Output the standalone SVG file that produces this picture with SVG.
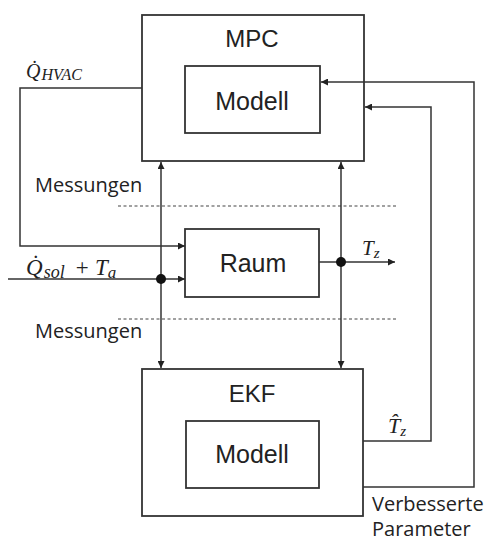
<svg xmlns="http://www.w3.org/2000/svg" width="487" height="542" viewBox="0 0 487 542">
<style>
.box{fill:#fff;stroke:#333;stroke-width:1.8}
.ln{fill:none;stroke:#333;stroke-width:1.5}
.dash{fill:none;stroke:#444;stroke-width:1.2;stroke-dasharray:3 2.5}
.t{font-family:"Liberation Sans",Arial,sans-serif;fill:#222;text-anchor:middle}
.c{font-family:"Open Sans","Liberation Sans",sans-serif;font-size:20px;fill:#222}
.m{font-family:"Liberation Serif","Times New Roman",serif;font-style:italic;fill:#222}
</style>
<defs>
<marker id="ah" viewBox="0 0 10 10" refX="10" refY="5" markerWidth="8" markerHeight="7" orient="auto-start-reverse" markerUnits="userSpaceOnUse">
<path d="M0,0 L10,5 L0,10 z" fill="#222"/>
</marker>
</defs>
<rect width="487" height="542" fill="#fff"/>
<g id="mpc">
<rect class="box" x="142" y="15" width="222" height="146"/>
<text class="t" x="252" y="47" font-size="24">MPC</text>
</g>
<g id="mpc-modell">
<rect class="box" x="185" y="66" width="135" height="67"/>
<text class="t" x="252" y="110" font-size="25">Modell</text>
</g>
<g id="raum">
<rect class="box" x="185" y="229" width="134" height="68"/>
<text class="t" x="253" y="272" font-size="25">Raum</text>
</g>
<g id="ekf">
<rect class="box" x="142" y="369" width="221" height="147"/>
<text class="t" x="252" y="402" font-size="24">EKF</text>
</g>
<g id="ekf-modell">
<rect class="box" x="186" y="421" width="133" height="67"/>
<text class="t" x="252" y="463" font-size="25">Modell</text>
</g>
<g id="connectors">
<line class="dash" x1="118" y1="206" x2="397" y2="206"/>
<line class="dash" x1="118" y1="319" x2="397" y2="319"/>
<polyline class="ln" points="142,88 20,88 20,246 185,246" marker-end="url(#ah)"/>
<line class="ln" x1="8" y1="279" x2="185" y2="279" marker-end="url(#ah)"/>
<line class="ln" x1="161" y1="162" x2="161" y2="368" marker-start="url(#ah)" marker-end="url(#ah)"/>
<line class="ln" x1="341" y1="162" x2="341" y2="368" marker-start="url(#ah)" marker-end="url(#ah)"/>
<line class="ln" x1="319" y1="262" x2="395" y2="262" marker-end="url(#ah)"/>
<circle cx="161" cy="279" r="5" fill="#111"/>
<circle cx="341" cy="262" r="5" fill="#111"/>
<polyline class="ln" points="363,441 431,441 431,107 365,107" marker-end="url(#ah)"/>
<polyline class="ln" points="363,487 474,487 474,82 321,82" marker-end="url(#ah)"/>
</g>
<g id="labels">
<text class="m" x="26" y="78" font-size="20">Q̇<tspan dx="1" dy="2" font-size="16">HVAC</tspan></text>
<text class="m" x="26" y="275" font-size="23">Q̇<tspan dx="1" dy="3" font-size="18">sol</tspan></text>
<text class="m" x="82" y="275" font-size="23" font-style="normal" text-anchor="middle">+</text>
<text class="m" x="95" y="275" font-size="23">T<tspan dy="3" font-size="17">a</tspan></text>
<text class="m" x="362" y="255" font-size="21">T<tspan dy="3" font-size="15">z</tspan></text>
<text class="m" x="388" y="433" font-size="22">T̂<tspan dy="3" font-size="15">z</tspan></text>
<text class="c" x="35" y="192">Messungen</text>
<text class="c" x="35" y="338">Messungen</text>
<text class="c" x="372" y="511">Verbesserte</text>
<text class="c" x="372" y="536">Parameter</text>
</g>
</svg>
